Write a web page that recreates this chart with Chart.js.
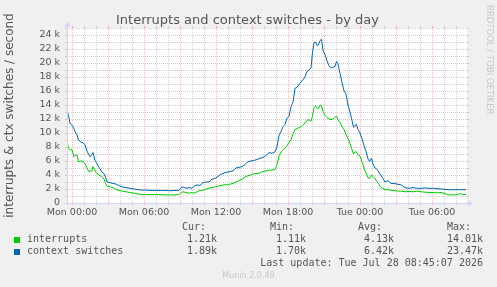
<!DOCTYPE html>
<html>
<head>
<meta charset="utf-8">
<script src="https://cdn.jsdelivr.net/npm/chart.js@4.4.1/dist/chart.umd.min.js"></script>
<style>
html,body{margin:0;padding:0;background:#F0F0F0;width:497px;height:287px;overflow:hidden}
#wrap{position:relative;width:497px;height:287px}
#c{position:absolute;left:0;top:0}
.m{position:absolute;white-space:pre;font-family:"DejaVu Sans Mono",monospace;font-size:10px;line-height:12px;color:#555}
.r{text-align:right}
.sw{position:absolute;width:6px;height:6px}
#title{position:absolute;left:0;width:495px;top:12px;text-align:center;font-family:"DejaVu Sans",sans-serif;font-size:13px;line-height:15px;color:#555}
#rrd{position:absolute;left:485px;top:5px;writing-mode:vertical-rl;font-family:"DejaVu Sans",sans-serif;font-size:8.5px;line-height:10px;color:#c8c8c8;white-space:pre}
#munin{position:absolute;left:0;width:497px;top:271px;text-align:center;font-family:"DejaVu Sans",sans-serif;font-size:8px;line-height:10px;color:#c8c8c8}
</style>
</head>
<body>
<div id="wrap">
<canvas id="c" width="497" height="287"></canvas>
<div id="title">Interrupts and context switches - by day</div>
<div id="rrd">RRDTOOL / TOBI OETIKER</div>
<div id="legend"></div>
<div id="munin">Munin 2.0.49</div>
</div>
<script>
// minutes since Mon 00:00
const times = [-25,-17.5,-10,0,10,15,25,32.5,45,55,65,75,82.5,90,97.5,105,115,125,135,147.5,160,167.5,175,190,205,220,235,250,270,290,310,330,350,370,390,415,440,465,490,515,535,545,555,570,585,600,610,625,640,655,670,685,700,715,730,745,760,775,790,805,820,835,850,865,880,895,910,925,940,955,970,985,1000,1015,1025,1035,1045,1055,1065,1075,1085,1095,1105,1115,1125,1135,1145,1155,1165,1175,1185,1195,1202.5,1210,1217.5,1225,1232.5,1240,1247.5,1255,1265,1275,1285,1295,1305,1315,1322.5,1330,1340,1350,1360,1370,1380,1390,1400,1407.5,1415,1422.5,1430,1440,1450,1460,1470,1480,1487.5,1497.5,1505,1515,1525,1535,1545,1555,1565,1580,1595,1610,1625,1645,1665,1685,1705,1725,1745,1765,1785,1805,1825,1845,1865,1885,1905,1925,1945,1955,1970];
// thousands per second
const interrupts = [8.8,7.8,7.6,7.6,6.6,6.8,6.9,5.9,6.0,5.9,5.6,5.0,4.5,4.6,4.5,5.2,4.6,4.2,4.0,3.8,3.4,2.8,2.4,2.3,2.2,1.9,1.8,1.7,1.6,1.5,1.4,1.3,1.2,1.2,1.2,1.2,1.2,1.15,1.15,1.15,1.2,1.5,1.6,1.5,1.4,1.5,1.4,1.6,1.8,1.8,2.0,2.1,2.2,2.3,2.4,2.5,2.6,2.6,2.7,2.8,3.0,3.2,3.4,3.7,3.9,4.0,4.2,4.2,4.3,4.5,4.6,4.7,4.7,4.8,5.5,6.7,7.3,7.6,7.8,8.2,8.7,9.0,9.9,10.5,10.6,10.8,10.9,11.2,11.4,11.8,11.9,11.7,12.4,13.6,13.9,13.6,13.5,14.0,13.9,13.1,12.5,12.2,12.0,11.9,12.0,12.3,12.4,11.9,11.5,10.9,10.5,9.8,9.2,8.5,7.6,7.0,7.3,7.3,6.9,6.7,5.9,5.0,4.3,3.6,3.5,4.0,3.8,3.5,3.0,2.6,2.2,2.1,1.9,1.9,1.8,1.8,1.7,1.7,1.6,1.65,1.6,1.7,1.6,1.55,1.5,1.5,1.45,1.5,1.35,1.15,1.15,1.2,1.35,1.2,1.21];
const ctxSwitches = [13.3,12.5,11.4,11.1,10.6,10.2,9.7,9.0,8.7,8.6,8.3,7.4,7.0,6.6,6.8,7.2,6.1,5.6,5.1,4.5,4.2,3.7,3.0,2.9,2.8,2.7,2.5,2.3,2.2,2.1,2.0,1.9,1.85,1.85,1.8,1.8,1.8,1.8,1.75,1.8,1.8,2.2,2.3,2.1,2.2,2.1,2.4,2.6,2.5,2.9,3.0,3.0,3.4,3.5,3.8,4.1,4.3,4.4,4.5,4.6,5.0,5.1,5.2,5.5,5.9,6.0,6.1,6.2,6.4,6.5,6.8,7.2,7.1,7.3,8.0,9.7,10.2,10.9,11.2,12.1,12.4,13.8,14.4,16.4,16.5,16.9,17.3,17.6,18.0,18.8,19.0,19.3,21.5,22.9,23.0,22.5,22.6,23.2,23.4,21.8,21.2,20.3,19.6,19.3,19.4,19.5,20.2,19.9,18.5,17.2,16.0,15.6,14.0,13.0,11.8,10.8,11.1,11.2,10.5,10.0,9.2,8.2,7.4,6.3,5.9,6.4,5.6,5.0,4.8,4.4,3.9,3.5,3.0,3.2,2.8,2.8,2.7,2.6,2.2,2.1,2.2,2.1,2.1,2.15,2.1,2.1,2.05,2.0,1.95,1.9,1.9,1.9,1.92,1.9,1.89];

const xTickValues = [0,360,720,1080,1440,1800];
const xTickLabels = ['Mon 00:00','Mon 06:00','Mon 12:00','Mon 18:00','Tue 00:00','Tue 06:00'];
const yTickValues = [0,2,4,6,8,10,12,14,16,18,20,22,24];
const yTickLabels = ['0','2 k','4 k','6 k','8 k','10 k','12 k','14 k','16 k','18 k','20 k','22 k','24 k'];

const seriesNames = ['interrupts','context switches'];
const seriesColors = ['#00CC00','#0066B3'];
const statHeaders = ['Cur:','Min:','Avg:','Max:'];
const curVals = ['1.21k','1.89k'];
const minVals = ['1.11k','1.70k'];
const avgVals = ['4.13k','6.42k'];
const maxVals = ['14.01k','23.47k'];
const lastUpdate = 'Last update: Tue Jul 28 08:45:07 2026';

(function(){
  const L = document.getElementById('legend');
  const add = (cls, text, style) => { const d=document.createElement('div'); d.className=cls; d.textContent=text; Object.assign(d.style, style); L.appendChild(d); return d; };
  const headLeft = [182,270,358,447];
  statHeaders.forEach((h,i)=>add('m', h, {left:headLeft[i]+'px', top:'221px'}));
  const colRight = [217,306,394,483];
  const cols = [curVals,minVals,avgVals,maxVals];
  seriesNames.forEach((n,r)=>{
    const top = 233 + r*12;
    const sw = document.createElement('div'); sw.className='sw';
    Object.assign(sw.style,{left:'14px', top:(top+4)+'px', background:seriesColors[r]}); L.appendChild(sw);
    add('m', n, {left:'27px', top:top+'px'});
    cols.forEach((c,ci)=>add('m r', c[r], {right:(497-colRight[ci])+'px', top:top+'px'}));
  });
  add('m r', lastUpdate, {right:(497-483)+'px', top:'257px'});
})();

const AXIS = '#CFD6F8';
const GRID = 'rgba(143,143,143,0.4)';
const MGRID = 'rgba(222,79,79,0.4)';

const muninPlugin = {
  id:'munin',
  beforeDraw(chart){
    const {ctx, chartArea:a} = chart;
    ctx.save();
    ctx.fillStyle='#F0F0F0'; ctx.fillRect(0,0,chart.width,chart.height);
    ctx.fillStyle='#FFFFFF'; ctx.fillRect(a.left,a.top,a.right-a.left,a.bottom-a.top);
    ctx.restore();
  },
  beforeDatasetsDraw(chart){
    const {ctx, chartArea:a, scales:{x,y}} = chart;
    ctx.save(); ctx.lineWidth=1;
    const hline=(v,col)=>{
      const py=Math.round(y.getPixelForValue(v))+0.5;
      ctx.strokeStyle=col; ctx.setLineDash([]);
      ctx.beginPath(); ctx.moveTo(a.left-2,py); ctx.lineTo(a.left,py); ctx.moveTo(a.right,py); ctx.lineTo(a.right+2,py); ctx.stroke();
      ctx.setLineDash([1,1]);
      ctx.beginPath(); ctx.moveTo(a.left,py); ctx.lineTo(a.right,py); ctx.stroke();
    };
    const vline=(v,col)=>{
      const px=Math.round(x.getPixelForValue(v))+0.5;
      ctx.strokeStyle=col; ctx.setLineDash([]);
      ctx.beginPath(); ctx.moveTo(px,a.bottom); ctx.lineTo(px,a.bottom+2); ctx.moveTo(px,a.top-2); ctx.lineTo(px,a.top); ctx.stroke();
      ctx.setLineDash([1,1]);
      ctx.beginPath(); ctx.moveTo(px,a.bottom); ctx.lineTo(px,a.top); ctx.stroke();
    };
    // minor grid: every 1 k and every hour
    for(let v=1; v<=y.max; v+=2) hline(v,GRID);
    for(let v=-60; v<=x.max; v+=60){ if(v<x.min || v%180===0) continue; vline(v,GRID); }
    // major grid: every 2 k and every 3 hours
    for(let v=2; v<=y.max; v+=2) hline(v,MGRID);
    for(let v=0; v<=x.max; v+=180){ if(v<x.min) continue; vline(v,MGRID); }
    ctx.restore();
  },
  afterDatasetsDraw(chart){
    const {ctx, chartArea:a} = chart;
    ctx.save();
    ctx.strokeStyle=AXIS; ctx.fillStyle=AXIS; ctx.lineWidth=1;
    const bx=a.left+0.5, by=a.bottom+0.5;
    ctx.beginPath();
    ctx.moveTo(a.left-3,by); ctx.lineTo(a.right+3,by);
    ctx.moveTo(bx,a.bottom+3); ctx.lineTo(bx,a.top-3);
    ctx.stroke();
    ctx.beginPath(); ctx.moveTo(a.right+1,by-3); ctx.lineTo(a.right+6,by); ctx.lineTo(a.right+1,by+3); ctx.closePath(); ctx.fill();
    ctx.beginPath(); ctx.moveTo(bx-3,a.top-1); ctx.lineTo(bx,a.top-7); ctx.lineTo(bx+3,a.top-1); ctx.closePath(); ctx.fill();
    ctx.restore();
  }
};

const mk = (arr)=>times.map((t,i)=>({x:t,y:arr[i]}));

new Chart(document.getElementById('c'), {
  type:'line',
  data:{datasets:[
    {label:seriesNames[1], data:mk(ctxSwitches), borderColor:seriesColors[1], borderWidth:1, pointRadius:0, tension:0, fill:false},
    {label:seriesNames[0], data:mk(interrupts), borderColor:seriesColors[0], borderWidth:1, pointRadius:0, tension:0, fill:false}
  ]},
  options:{
    responsive:false, animation:false, devicePixelRatio:1,
    layout:{padding:{left:0,right:30,top:28,bottom:64}},
    plugins:{legend:{display:false}, tooltip:{enabled:false}, title:{display:false}},
    scales:{
      x:{type:'linear', min:-25, max:1975,
        grid:{display:false, drawTicks:false}, border:{display:false},
        afterBuildTicks:(s)=>{ s.ticks = xTickValues.map(v=>({value:v})); },
        afterFit:(s)=>{ s.height = 20; },
        ticks:{autoSkip:false, maxRotation:0, minRotation:0, padding:4, color:'#555',
          font:{family:'DejaVu Sans', size:9.5}, callback:(v,i)=>xTickLabels[i]}
      },
      y:{type:'linear', min:0, max:25,
        grid:{display:false, drawTicks:false}, border:{display:false},
        afterBuildTicks:(s)=>{ s.ticks = yTickValues.map(v=>({value:v})); },
        afterFit:(s)=>{ s.width = 67; },
        title:{display:true, text:'interrupts & ctx switches / second', color:'#555',
          font:{family:'DejaVu Sans', size:12}, padding:{top:3,bottom:0}},
        ticks:{autoSkip:false, padding:7, color:'#555',
          font:{family:'DejaVu Sans', size:9.5}, callback:(v,i)=>yTickLabels[i]}
      }
    }
  },
  plugins:[muninPlugin]
});
</script>
</body>
</html>
